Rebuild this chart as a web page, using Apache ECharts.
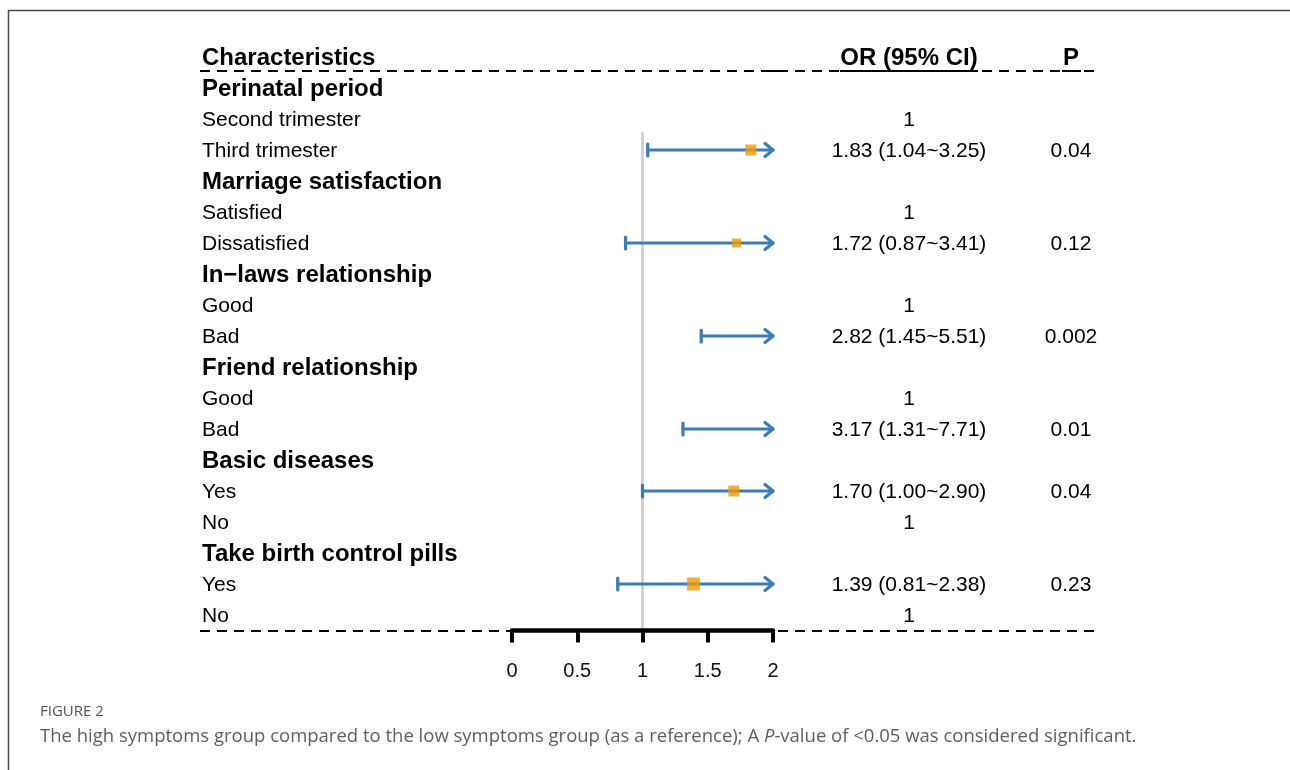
<!DOCTYPE html>
<html>
<head>
<meta charset="utf-8">
<script src="https://cdn.jsdelivr.net/npm/echarts@6/dist/echarts.min.js"></script>
<style>
  html, body { margin: 0; padding: 0; background: #ffffff; }
  #chart { width: 1290px; height: 770px; }
</style>
</head>
<body>
<div id="chart"></div>
<script>
// Forest plot: odds ratios of the high vs. low symptoms group
const rowLabels = [
  'Perinatal period', 'Second trimester', 'Third trimester',
  'Marriage satisfaction', 'Satisfied', 'Dissatisfied',
  'In\u2212laws relationship', 'Good', 'Bad',
  'Friend relationship', 'Good', 'Bad',
  'Basic diseases', 'Yes', 'No',
  'Take birth control pills', 'Yes', 'No'
];
const isGroupRow = [1, 0, 0, 1, 0, 0, 1, 0, 0, 1, 0, 0, 1, 0, 0, 1, 0, 0];
const oddsRatio = [null, 1, 1.83, null, 1, 1.72, null, 1, 2.82, null, 1, 3.17, null, 1.70, 1, null, 1.39, 1];
const ciLower   = [null, null, 1.04, null, null, 0.87, null, null, 1.45, null, null, 1.31, null, 1.00, null, null, 0.81, null];
const ciUpper   = [null, null, 3.25, null, null, 3.41, null, null, 5.51, null, null, 7.71, null, 2.90, null, null, 2.38, null];
const orLabels  = ['', '1', '1.83 (1.04~3.25)', '', '1', '1.72 (0.87~3.41)', '', '1', '2.82 (1.45~5.51)',
                   '', '1', '3.17 (1.31~7.71)', '', '1.70 (1.00~2.90)', '1', '', '1.39 (0.81~2.38)', '1'];
const pLabels   = ['', '', '0.04', '', '', '0.12', '', '', '0.002', '', '', '0.01', '', '0.04', '', '', '0.23', ''];
const boxSize   = [0, 0, 11, 0, 0, 9, 0, 0, 11, 0, 0, 11, 0, 11, 0, 0, 13, 0];
const headerLabels = ['Characteristics', 'OR (95% CI)', 'P'];
const xTicks = [0, 0.5, 1, 1.5, 2];

const FONT = '"Liberation Sans", Arial, Helvetica, sans-serif';
const BLUE = '#3b7cb8';
const ORANGE = '#f09b00';
const X_MIN = xTicks[0], X_MAX = xTicks[xTicks.length - 1];
const COL_X = [202, 909, 1071];
const COL_ALIGN = ['left', 'center', 'center'];

// confidence intervals, clipped to the axis range
const ciData = [];
ciLower.forEach((lo, i) => { if (lo != null) ciData.push([lo, ciUpper[i], i]); });

// point estimates that fall inside the axis range
const pointData = [];
oddsRatio.forEach((v, i) => {
  if (ciLower[i] != null && v >= X_MIN && v <= X_MAX) {
    pointData.push({ value: [v, i], symbolSize: boxSize[i] });
  }
});

function renderCI(params, api) {
  const lo = api.value(0), hi = api.value(1), r = api.value(2);
  const a = api.coord([Math.max(lo, X_MIN), r]);
  const b = api.coord([Math.min(hi, X_MAX), r]);
  const style = { stroke: BLUE, lineWidth: 3.2, lineCap: 'round', lineJoin: 'round', fill: null };
  const children = [{ type: 'line', shape: { x1: a[0], y1: a[1], x2: b[0], y2: b[1] }, style }];
  if (lo >= X_MIN) {
    children.push({ type: 'line', shape: { x1: a[0], y1: a[1] - 6, x2: a[0], y2: a[1] + 6 }, style });
  }
  if (hi > X_MAX) {
    children.push({ type: 'polyline', shape: { points: [[b[0] - 8, b[1] - 6.5], [b[0], b[1]], [b[0] - 8, b[1] + 6.5]] }, style });
  }
  return { type: 'group', children };
}

function renderTable(params, api) {
  const r = api.value(0);
  const y = api.coord([0, r])[1] + 1.5;
  const bold = isGroupRow[r] === 1;
  const font = (bold ? 'bold 24px ' : '21px ') + FONT;
  const texts = [rowLabels[r], orLabels[r], pLabels[r]];
  const children = texts.map((t, k) => ({
    type: 'text',
    style: { text: t, x: COL_X[k], y: y, font: font, fill: '#000', align: COL_ALIGN[k], verticalAlign: 'middle' }
  }));
  return { type: 'group', children };
}

// dashed table rule drawn as short segments
function dashedRule(y, x0, x1, z) {
  const segs = [];
  for (let x = x0; x < x1; x += 17) {
    segs.push({ type: 'line', z: z, silent: true,
      shape: { x1: x, y1: y, x2: Math.min(x + 10, x1), y2: y },
      style: { stroke: '#000', lineWidth: 2 } });
  }
  return segs;
}

// column headings above the first rule
const headerTexts = headerLabels.map((t, k) => ({
  type: 'text', silent: true, x: COL_X[k], y: 58.5,
  style: { text: t, font: 'bold 24px ' + FONT, fill: '#000', align: COL_ALIGN[k], verticalAlign: 'middle' }
}));

const chart = echarts.init(document.getElementById('chart'), null, { renderer: 'canvas' });

chart.setOption({
  backgroundColor: '#ffffff',
  animation: false,
  grid: { left: 512, right: 517, top: 41.5, bottom: 139.5, containLabel: false },
  xAxis: {
    type: 'value', min: X_MIN, max: X_MAX, interval: 0.5, position: 'bottom',
    axisLine: { show: true, onZero: false, lineStyle: { color: '#000', width: 4.5 } },
    axisTick: { show: true, length: 12, lineStyle: { color: '#000', width: 4 } },
    axisLabel: { margin: 31, fontFamily: FONT, fontSize: 20, color: '#111',
                 formatter: v => String(v) },
    splitLine: { show: false }
  },
  yAxis: { type: 'value', min: -1.5, max: 17.5, inverse: true, show: false },
  graphic: [
    // page frame
    { type: 'line', shape: { x1: 8, y1: 10.5, x2: 1290, y2: 10.5 }, style: { stroke: '#4a4a4a', lineWidth: 1.5 }, silent: true },
    { type: 'line', shape: { x1: 8.5, y1: 10, x2: 8.5, y2: 770 }, style: { stroke: '#4a4a4a', lineWidth: 1.5 }, silent: true },
    // header underlines
    { type: 'line', shape: { x1: 766, y1: 71, x2: 784, y2: 71 }, style: { stroke: '#000', lineWidth: 2 }, silent: true },
    { type: 'line', shape: { x1: 840, y1: 71, x2: 978, y2: 71 }, style: { stroke: '#000', lineWidth: 2 }, silent: true },
    { type: 'line', shape: { x1: 1062, y1: 71, x2: 1081, y2: 71 }, style: { stroke: '#000', lineWidth: 2 }, silent: true },
    // caption
    { type: 'text', left: 40, top: 704,
      style: { text: 'FIGURE 2', font: '500 15px "Open Sans", sans-serif', fill: '#555' } },
    { type: 'text', left: 40, top: 727,
      style: {
        text: 'The high symptoms group compared to the low symptoms group (as a reference); A {i|P}-value of <0.05 was considered significant.',
        font: '18.5px "Open Sans", sans-serif', fill: '#5f5f5f',
        rich: { i: { font: 'italic 18.5px "Open Sans", sans-serif', fill: '#5f5f5f' } }
      } }
  ].concat(headerTexts, dashedRule(71, 200, 1100, 0), dashedRule(631, 200, 1100, -1)),
  series: [
    {
      type: 'line', name: 'reference', data: [], silent: true, z: 0,
      markLine: {
        symbol: 'none', silent: true, label: { show: false }, z: 0,
        lineStyle: { color: '#d2d2d2', width: 3, type: 'solid' },
        data: [[{ coord: [1, 1.42] }, { coord: [1, 17.5] }]]
      }
    },
    {
      type: 'custom', name: 'table', data: rowLabels.map((_, i) => [i]),
      renderItem: renderTable, encode: { y: 0 }, clip: false, silent: true, z: 5
    },
    {
      type: 'custom', name: 'CI', data: ciData, renderItem: renderCI,
      encode: { x: [0, 1], y: 2 }, clip: false, silent: true, z: 10
    },
    {
      type: 'scatter', name: 'OR', data: pointData, symbol: 'rect',
      itemStyle: { color: ORANGE }, silent: true, z: 11
    }
  ]
});
</script>
</body>
</html>
